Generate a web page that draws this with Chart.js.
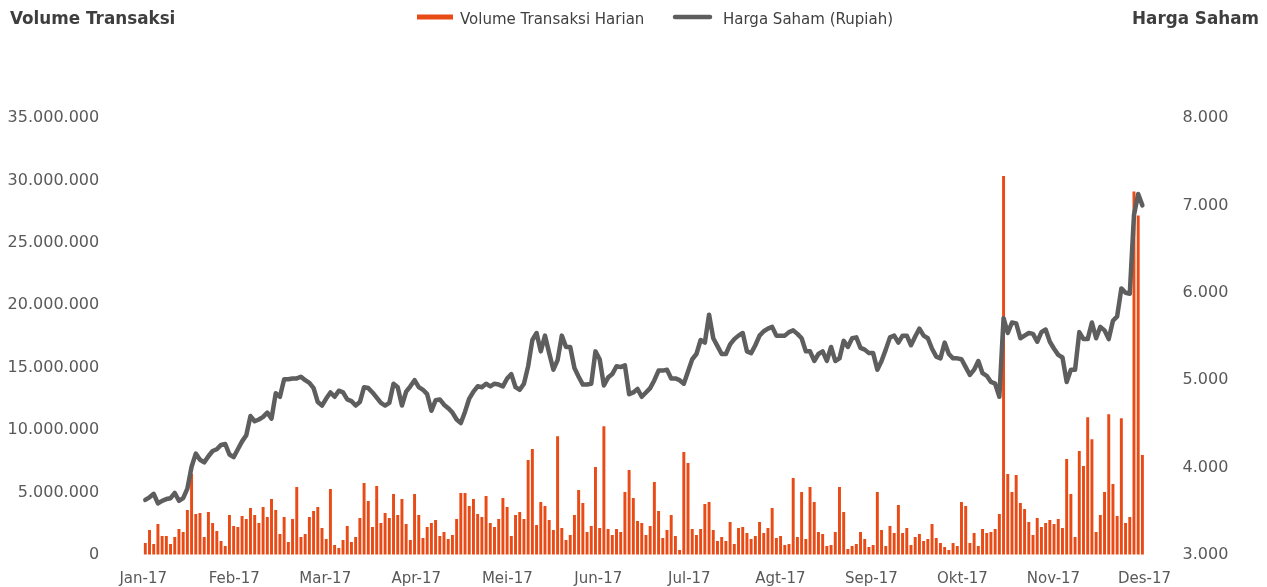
<!DOCTYPE html>
<html>
<head>
<meta charset="utf-8">
<script src="https://cdn.jsdelivr.net/npm/chart.js@4/dist/chart.umd.min.js"></script>
<style>
html, body { margin: 0; padding: 0; background: #ffffff; overflow: hidden; }
#wrap { width: 1267px; height: 587px; position: relative; }
canvas { display: block; }
</style>
</head>
<body>
<div id="wrap"><canvas id="c" width="1267" height="587"></canvas></div>
<script>
// Month tick labels (x axis)
const monthLabels = ['Jan-17', 'Feb-17', 'Mar-17', 'Apr-17', 'Mei-17', 'Jun-17',
                     'Jul-17', 'Agt-17', 'Sep-17', 'Okt-17', 'Nov-17', 'Des-17'];

// Daily transaction volume (shares)
const volume = [
  960000, 2000000, 880000, 2480000, 1520000, 1520000, 880000, 1440000, 2080000, 1840000,
  3600000, 6500000, 3280000, 3360000, 1440000, 3440000, 2560000, 1920000, 1120000, 720000,
  3200000, 2320000, 2240000, 3120000, 2880000, 3760000, 3200000, 2560000, 3840000, 3040000,
  4480000, 3600000, 1680000, 3040000, 1040000, 2880000, 5440000, 1440000, 1680000, 3040000,
  3520000, 3840000, 2160000, 1280000, 5280000, 800000, 560000, 1200000, 2320000, 1040000,
  1440000, 2960000, 5760000, 4320000, 2240000, 5520000, 2560000, 3360000, 2960000, 4880000,
  3200000, 4480000, 2480000, 1200000, 4880000, 3200000, 1360000, 2240000, 2560000, 2800000,
  1520000, 1840000, 1280000, 1600000, 2880000, 4960000, 4960000, 3920000, 4480000, 3280000,
  3040000, 4720000, 2560000, 2240000, 2880000, 4560000, 3840000, 1520000, 3200000, 3440000,
  2880000, 7600000, 8480000, 2400000, 4240000, 3920000, 2800000, 2000000, 9520000, 2160000,
  1200000, 1600000, 3200000, 5200000, 4160000, 1840000, 2320000, 7040000, 2160000, 10320000,
  2080000, 1600000, 2080000, 1840000, 5040000, 6800000, 4560000, 2720000, 2560000, 1600000,
  2320000, 5840000, 3520000, 1360000, 2000000, 3200000, 1520000, 400000, 8240000, 7360000,
  2080000, 1600000, 2080000, 4080000, 4240000, 2000000, 1120000, 1440000, 1120000, 2640000,
  880000, 2160000, 2240000, 1760000, 1280000, 1520000, 2640000, 1760000, 2160000, 3760000,
  1360000, 1520000, 800000, 880000, 6160000, 1440000, 5040000, 1280000, 5440000, 4240000,
  1840000, 1680000, 720000, 800000, 1840000, 5440000, 3440000, 480000, 720000, 880000,
  1840000, 1280000, 640000, 800000, 5040000, 2000000, 720000, 2320000, 1760000, 4000000,
  1760000, 2160000, 800000, 1440000, 1680000, 1120000, 1280000, 2480000, 1360000, 960000,
  640000, 400000, 960000, 720000, 4240000, 3920000, 960000, 1760000, 720000, 2080000,
  1760000, 1840000, 2080000, 3280000, 30350000, 6480000, 5040000, 6400000, 4160000, 3680000,
  2640000, 1600000, 2960000, 2240000, 2560000, 2800000, 2480000, 2880000, 2160000, 7680000,
  4880000, 1440000, 8320000, 7120000, 11040000, 9280000, 1840000, 3200000, 5040000, 11280000,
  5680000, 3120000, 10960000, 2560000, 3040000, 29120000, 27200000, 8000000
];

// Daily share price (Rupiah)
const price = [
  3630, 3660, 3700, 3590, 3620, 3640, 3650, 3710, 3620, 3650,
  3760, 4010, 4160, 4090, 4060, 4130, 4190, 4210, 4260, 4270,
  4150, 4120, 4210, 4300, 4370, 4590, 4530, 4550, 4580, 4630,
  4560, 4850, 4810, 5010, 5010, 5020, 5020, 5040, 5000, 4970,
  4910, 4750, 4710, 4790, 4860, 4810, 4880, 4860, 4780, 4760,
  4710, 4750, 4920, 4910, 4860, 4800, 4740, 4710, 4740, 4960,
  4920, 4710, 4870, 4930, 5000, 4920, 4890, 4840, 4650, 4770,
  4780, 4720, 4680, 4630, 4550, 4510, 4640, 4790, 4870, 4930,
  4920, 4960, 4930, 4960, 4950, 4930, 5020, 5070, 4920, 4890,
  4960, 5160, 5460, 5540, 5330, 5510, 5310, 5120, 5230, 5510,
  5380, 5380, 5140, 5040, 4950, 4950, 4960, 5330, 5240, 4940,
  5030, 5070, 5160, 5150, 5170, 4840, 4860, 4900, 4810, 4860,
  4910, 5000, 5110, 5110, 5120, 5020, 5020, 5000, 4960, 5100,
  5240, 5300, 5460, 5430, 5750, 5480, 5390, 5300, 5300, 5410,
  5470, 5510, 5540, 5330, 5310, 5400, 5510, 5560, 5590, 5610,
  5510, 5510, 5510, 5550, 5570, 5530, 5480, 5330, 5330, 5220,
  5300, 5330, 5220, 5380, 5220, 5250, 5450, 5380, 5480, 5490,
  5370, 5350, 5310, 5310, 5120, 5220, 5350, 5490, 5510, 5430,
  5510, 5510, 5400, 5500, 5590, 5510, 5480, 5360, 5270, 5250,
  5430, 5300, 5250, 5250, 5240, 5150, 5060, 5120, 5220, 5080,
  5050, 4980, 4960, 4810, 5710, 5540, 5660, 5650, 5480, 5510,
  5540, 5530, 5440, 5550, 5580, 5440, 5360, 5290, 5260, 4980,
  5120, 5120, 5550, 5470, 5470, 5660, 5480, 5610, 5570, 5470,
  5680, 5730, 6050, 6000, 5990, 6890, 7130, 7000
];

// Trading-day categories
const days = volume.map((_, i) => 'Hari ' + (i + 1));

const volumeTicks = { min: 0, max: 35000000, step: 5000000 };
const priceTicks = { min: 3000, max: 8000, step: 1000 };

const FONT = '"DejaVu Sans", sans-serif';
const TICK_COLOR = '#595959';
const BAR_COLOR = '#E94B16';
const LINE_COLOR = '#5E5E5E';

function fmt(v) {
  return String(Math.round(v)).replace(/\B(?=(\d{3})+(?!\d))/g, '.');
}

const headerPlugin = {
  id: 'headers',
  afterDraw(chart) {
    const ctx = chart.ctx;
    ctx.save();
    ctx.textBaseline = 'alphabetic';
    ctx.fillStyle = '#3E3E3E';
    ctx.font = 'bold 16.8px ' + FONT;
    ctx.textAlign = 'left';
    ctx.fillText('Volume Transaksi', 10, 24);
    ctx.textAlign = 'right';
    ctx.fillText('Harga Saham', 1259, 24);

    // legend
    ctx.font = '15px ' + FONT;
    ctx.textAlign = 'left';
    ctx.fillStyle = BAR_COLOR;
    ctx.fillRect(417, 14.5, 36, 5);
    ctx.fillStyle = '#404040';
    ctx.fillText(chart.data.datasets[1].label, 460, 24);
    ctx.strokeStyle = LINE_COLOR;
    ctx.lineWidth = 4.5;
    ctx.lineCap = 'round';
    ctx.beginPath();
    ctx.moveTo(675, 17);
    ctx.lineTo(710, 17);
    ctx.stroke();
    ctx.fillStyle = '#404040';
    ctx.fillText(chart.data.datasets[0].label, 723, 24);
    ctx.restore();
  }
};

// invisible tick marks used only as spacing between labels and plot
function spacerGrid(len) {
  return { display: true, drawOnChartArea: false, drawTicks: true, tickLength: len, color: 'rgba(0,0,0,0)' };
}

new Chart(document.getElementById('c'), {
  data: {
    labels: days,
    datasets: [
      {
        type: 'line',
        label: 'Harga Saham (Rupiah)',
        data: price,
        xAxisID: 'x',
        yAxisID: 'y1',
        borderColor: LINE_COLOR,
        borderWidth: 4.5,
        pointRadius: 0,
        tension: 0,
        borderJoinStyle: 'round',
        borderCapStyle: 'round',
        order: 0
      },
      {
        type: 'bar',
        label: 'Volume Transaksi Harian',
        data: volume,
        xAxisID: 'x',
        yAxisID: 'y',
        backgroundColor: BAR_COLOR,
        borderWidth: 0,
        categoryPercentage: 1.0,
        barPercentage: 0.7,
        order: 1
      }
    ]
  },
  options: {
    responsive: false,
    animation: false,
    devicePixelRatio: 1,
    layout: { padding: { top: 118, left: 0, right: 0, bottom: 0 } },
    plugins: {
      legend: { display: false },
      tooltip: { enabled: false },
      title: { display: false }
    },
    scales: {
      x: {
        type: 'category',
        display: false,
        offset: true,
        grid: { display: false }
      },
      xm: {
        type: 'category',
        labels: monthLabels,
        position: 'bottom',
        offset: false,
        grid: { display: false },
        border: { display: false },
        ticks: {
          autoSkip: false,
          maxRotation: 0,
          minRotation: 0,
          padding: 7,
          color: TICK_COLOR,
          font: { family: FONT, size: 15 }
        },
        afterFit(s) { s.height = 32; }
      },
      y: {
        type: 'linear',
        position: 'left',
        min: volumeTicks.min,
        max: volumeTicks.max,
        grid: spacerGrid(44),
        border: { display: false },
        ticks: {
          stepSize: volumeTicks.step,
          padding: 0,
          color: TICK_COLOR,
          font: { family: FONT, size: 16 },
          callback: (v) => fmt(v)
        },
        afterFit(s) { s.width = 143.2; }
      },
      y1: {
        type: 'linear',
        position: 'right',
        min: priceTicks.min,
        max: priceTicks.max,
        grid: spacerGrid(38),
        border: { display: false },
        ticks: {
          stepSize: priceTicks.step,
          padding: 0,
          color: TICK_COLOR,
          font: { family: FONT, size: 16 },
          callback: (v) => fmt(v)
        },
        afterFit(s) { s.width = 122.5; }
      }
    }
  },
  plugins: [headerPlugin]
});
</script>
</body>
</html>
